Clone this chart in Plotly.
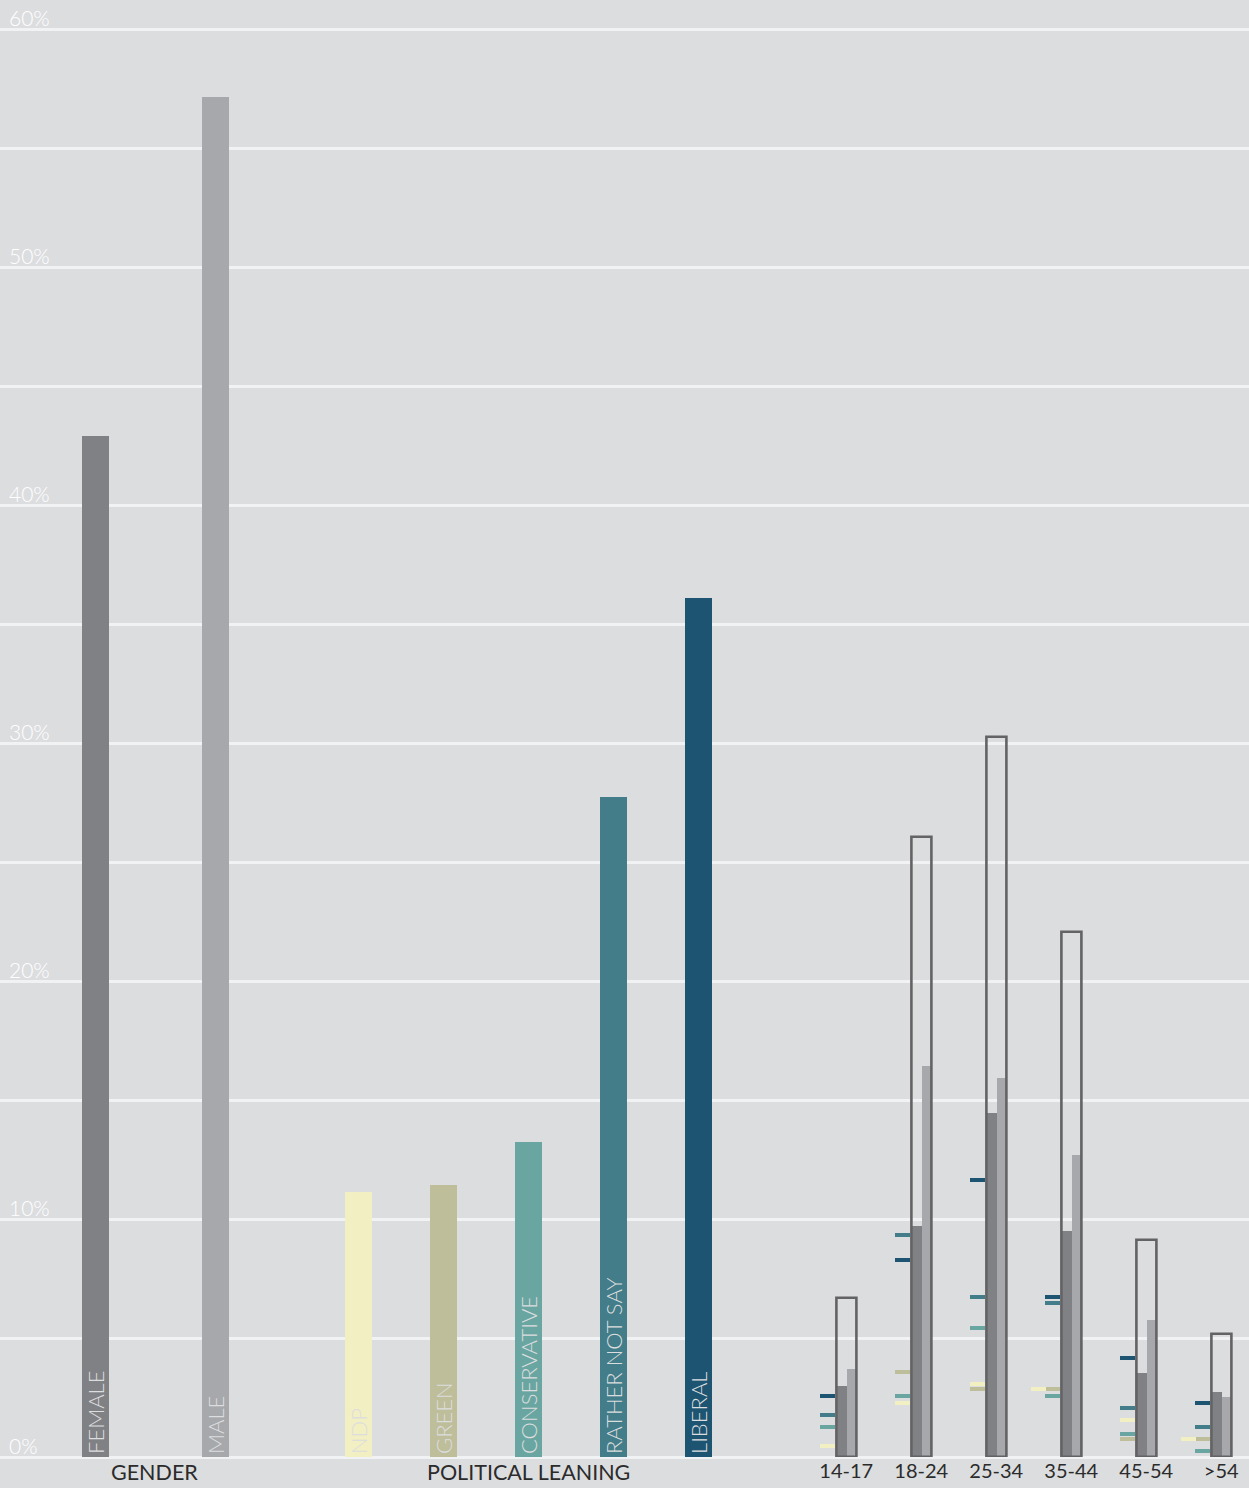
import plotly.graph_objects as go

# ---------------- data ----------------
gender_labels = ["FEMALE", "MALE"]
gender_values = [42.9, 57.14]

leaning_labels = ["NDP", "GREEN", "CONSERVATIVE", "RATHER NOT SAY", "LIBERAL"]
leaning_values = [11.13, 11.43, 13.24, 27.73, 36.09]

age_labels = ["14-17", "18-24", "25-34", "35-44", "45-54", ">54"]
age_total = [6.67, 26.04, 30.24, 22.05, 9.13, 5.16]
age_female = [2.98, 9.71, 14.45, 9.50, 3.53, 2.73]
age_male = [3.70, 16.43, 15.92, 12.69, 5.76, 2.52]

age_liberal = [2.56, 8.28, 11.64, 6.72, 4.16, 2.27]
age_rather = [1.76, 9.33, 6.72, 6.47, 2.06, 1.26]
age_conservative = [1.26, 2.56, 5.42, 2.56, 0.97, 0.25]
age_green = [0.0, 3.58, 2.86, 2.86, 0.76, 0.76]
age_ndp = [0.46, 2.27, 3.07, 2.86, 1.55, 0.76]

y_ticks = [0, 10, 20, 30, 40, 50, 60]
y_tick_text = ["0%", "10%", "20%", "30%", "40%", "50%", "60%"]

# ---------------- styles ----------------
W, H = 1249, 1488
PLOT_H = 1457          # plot area height in px (0% line at the bottom)
PX_PER_UNIT = 23.8     # pixels per percentage point
BG = "#dcdddf"
GRID = "#f1f2f4"
FEMALE_C = "#808184"
MALE_C = "#a7a8ab"
BOX_C = "#636365"
LEAN_COLORS = {
    "NDP": "#f2efc2",
    "GREEN": "#bebe9a",
    "CONSERVATIVE": "#6aa6a1",
    "RATHER NOT SAY": "#427d89",
    "LIBERAL": "#1c5471",
}
FONT = "Lato, 'Open Sans', sans-serif"
DARK_TXT = "#2b2b2b"

fig = go.Figure()

# invisible full-width base subplot (carries full-width gridlines)
fig.add_trace(go.Scatter(x=[0, 1], y=[0, 0], mode="markers", marker=dict(opacity=0),
                         hoverinfo="skip", showlegend=False, xaxis="x", yaxis="y"))

inside_font = dict(family=FONT, size=22, color=BG, weight=300)

# gender
fig.add_trace(go.Bar(
    x=gender_labels, y=gender_values, xaxis="x2", yaxis="y",
    width=0.225, marker=dict(color=[FEMALE_C, MALE_C], line=dict(width=0)),
    text=gender_labels, textposition="inside", insidetextanchor="start",
    textangle=-90, textfont=inside_font, constraintext="none",
    hoverinfo="skip", showlegend=False))

# political leaning
fig.add_trace(go.Bar(
    x=leaning_labels, y=leaning_values, xaxis="x3", yaxis="y",
    width=0.318, marker=dict(color=[LEAN_COLORS[k] for k in leaning_labels], line=dict(width=0)),
    text=leaning_labels, textposition="inside", insidetextanchor="start",
    textangle=-90, textfont=inside_font, constraintext="none",
    hoverinfo="skip", showlegend=False))

# age groups: female / male bars and total outline
fig.add_trace(go.Bar(x=age_labels, y=age_female, xaxis="x4", yaxis="y",
                     offset=-0.125, width=0.125,
                     marker=dict(color=FEMALE_C, line=dict(width=0)),
                     hoverinfo="skip", showlegend=False))
fig.add_trace(go.Bar(x=age_labels, y=age_male, xaxis="x4", yaxis="y",
                     offset=0.0, width=0.12,
                     marker=dict(color=MALE_C, line=dict(width=0)),
                     hoverinfo="skip", showlegend=False))
fig.add_trace(go.Bar(x=age_labels, y=age_total, xaxis="x4", yaxis="y",
                     offset=-0.1333, width=0.2667,
                     marker=dict(color="rgba(0,0,0,0)", line=dict(color=BOX_C, width=2.6)),
                     hoverinfo="skip", showlegend=False))

# political leaning ticks per age group
tick_h = 4 / PX_PER_UNIT
slots = [-0.349, -0.537, -0.725]
placed = [[] for _ in age_labels]
for name, vals in [("LIBERAL", age_liberal), ("RATHER NOT SAY", age_rather),
                   ("CONSERVATIVE", age_conservative), ("GREEN", age_green),
                   ("NDP", age_ndp)]:
    xs, bases, hs, offs = [], [], [], []
    for i, v in enumerate(vals):
        if v <= 0:
            continue
        k = sum(1 for p in placed[i] if abs(p - v) < tick_h)
        placed[i].append(v)
        xs.append(age_labels[i])
        bases.append(v - tick_h / 2)
        hs.append(tick_h)
        offs.append(slots[k])
    fig.add_trace(go.Bar(x=xs, y=hs, base=bases, xaxis="x4", yaxis="y",
                         offset=offs, width=0.2,
                         marker=dict(color=LEAN_COLORS[name], line=dict(width=0)),
                         hoverinfo="skip", showlegend=False))

hidden_cat = dict(type="category", anchor="y", showgrid=False, zeroline=False,
                  showline=False, ticks="", showticklabels=False, fixedrange=True)

group_font = dict(family=FONT, size=21.5, color=DARK_TXT)

fig.update_layout(
    width=W, height=H,
    margin=dict(l=0, r=0, t=H - 31 - PLOT_H, b=31, pad=0),
    paper_bgcolor=BG, plot_bgcolor="rgba(0,0,0,0)",
    barmode="overlay", bargap=0,
    showlegend=False,
    xaxis=dict(domain=[0, 1], range=[0, 1], anchor="y", visible=False, fixedrange=True),
    xaxis2=dict(hidden_cat, domain=[34.5 / W, 274.5 / W], range=[-0.5, 1.5]),
    xaxis3=dict(hidden_cat, domain=[316 / W, 741 / W], range=[-0.5, 4.5]),
    xaxis4=dict(hidden_cat, domain=[808.7 / W, 1.0], range=[-0.5, -0.5 + (W - 808.7) / 75.0],
                showticklabels=True,
                tickfont=dict(family=FONT, size=20, color=DARK_TXT)),
    yaxis=dict(anchor="x", domain=[0, 1], range=[0, PLOT_H / PX_PER_UNIT],
               tickmode="array", tickvals=y_ticks, ticktext=y_tick_text,
               ticklabelposition="inside top", ticklabeloverflow="allow", ticks="",
               tickfont=dict(family=FONT, size=21, color="#ffffff", weight=300),
               showgrid=True, gridcolor=GRID, gridwidth=3,
               minor=dict(tickmode="linear", tick0=0, dtick=5, showgrid=True,
                          gridcolor=GRID, gridwidth=3),
               zeroline=True, zerolinecolor=GRID, zerolinewidth=3,
               showline=False, fixedrange=True, ticklabelstandoff=6,
               ticklabelshift=4),
    annotations=[
        dict(text="GENDER", xref="x2", x=0.5, yref="paper", y=0, yanchor="top",
             xanchor="center", showarrow=False, font=group_font),
        dict(text="POLITICAL LEANING", xref="x3", x=2, yref="paper", y=0, yanchor="top",
             xanchor="center", showarrow=False, font=group_font),
    ],
)

fig.write_html("out.html")
